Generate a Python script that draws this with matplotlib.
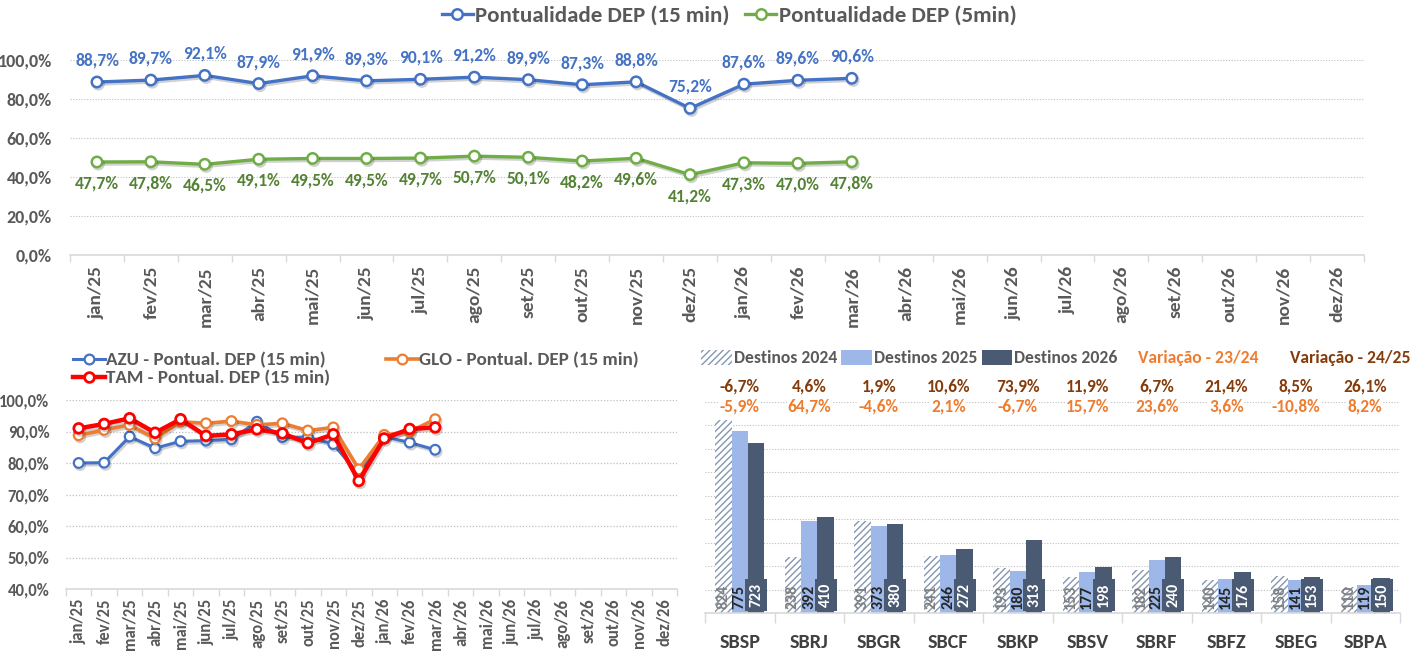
import matplotlib
matplotlib.use("Agg")
import matplotlib.pyplot as plt
import matplotlib.patheffects as pe
from matplotlib.transforms import blended_transform_factory
import numpy as np

plt.rcParams['font.family'] = ['Carlito', 'DejaVu Sans']
plt.rcParams['font.weight'] = 'bold'
plt.rcParams['hatch.linewidth'] = 1.0

# ---------------- data ----------------
months = ["jan/25", "fev/25", "mar/25", "abr/25", "mai/25", "jun/25", "jul/25", "ago/25",
          "set/25", "out/25", "nov/25", "dez/25", "jan/26", "fev/26", "mar/26", "abr/26",
          "mai/26", "jun/26", "jul/26", "ago/26", "set/26", "out/26", "nov/26", "dez/26"]
pont_15 = [88.7, 89.7, 92.1, 87.9, 91.9, 89.3, 90.1, 91.2, 89.9, 87.3, 88.8, 75.2, 87.6, 89.6, 90.6]
pont_5 = [47.7, 47.8, 46.5, 49.1, 49.5, 49.5, 49.7, 50.7, 50.1, 48.2, 49.6, 41.2, 47.3, 47.0, 47.8]

azu = [80.0, 80.1, 88.4, 84.7, 86.9, 87.1, 87.5, 93.1, 88.2, 88.2, 86.0, 76.5, 88.4, 86.5, 84.2]
glo = [88.8, 90.5, 92.1, 87.8, 93.1, 92.6, 93.3, 92.1, 92.6, 90.3, 91.3, 78.0, 88.9, 89.9, 93.9]
tam = [91.0, 92.4, 94.2, 89.6, 93.9, 88.6, 89.1, 90.7, 89.4, 86.3, 89.1, 74.3, 87.8, 90.8, 91.3]

airports = ["SBSP", "SBRJ", "SBGR", "SBCF", "SBKP", "SBSV", "SBRF", "SBFZ", "SBEG", "SBPA"]
dest_2024 = [824, 238, 391, 241, 193, 153, 182, 140, 158, 110]
dest_2025 = [775, 392, 373, 246, 180, 177, 225, 145, 141, 119]
dest_2026 = [723, 410, 380, 272, 313, 198, 240, 176, 153, 150]
var_2425 = ["-6,7%", "4,6%", "1,9%", "10,6%", "73,9%", "11,9%", "6,7%", "21,4%", "8,5%", "26,1%"]
var_2324 = ["-5,9%", "64,7%", "-4,6%", "2,1%", "-6,7%", "15,7%", "23,6%", "3,6%", "-10,8%", "8,2%"]

# ---------------- styles ----------------
GRAY = "#595959"
GRID = "#BFBFBF"
AXIS = "#D9D9D9"
BLUE = "#4472C4"
GREEN = "#70AD47"
GREEN_T = "#548235"
ORANGE = "#ED7D31"
RED = "#FF0000"
BROWN = "#843C0C"
C24 = "#8497B0"
C25 = "#9DB7E8"
C26 = "#4B5A73"

W, H = 1418, 656
fig = plt.figure(figsize=(W / 100, H / 100), dpi=100)

def fx(px):
    return px / W

def fy(py):
    return 1 - py / H

shadow = [pe.SimpleLineShadow(offset=(1.0, -1.5), shadow_color='black', alpha=0.18), pe.Normal()]

def pct(v):
    return f"{v:.1f}".replace(".", ",") + "%"

def style_cat_axis(ax, n):
    ax.set_xlim(-0.5, n - 0.5)
    ax.set_xticks(range(n))
    ax.set_xticks(np.arange(-0.5, n, 1.0), minor=True)
    ax.tick_params(axis='x', which='major', length=0)
    ax.tick_params(axis='x', which='minor', length=5, color=AXIS, width=1)
    for s in ['top', 'right', 'left']:
        ax.spines[s].set_visible(False)
    ax.spines['bottom'].set_color(AXIS)
    ax.spines['bottom'].set_linewidth(1.2)
    ax.tick_params(axis='y', length=0)

# ---------------- top chart ----------------
ax1 = fig.add_axes([fx(70), fy(255), fx(1364) - fx(70), fy(60) - fy(255)])
n = len(months)
x15 = np.arange(len(pont_15))
ax1.set_ylim(0, 100)
ax1.set_yticks(np.arange(0, 101, 20))
ax1.set_yticklabels([pct(v) for v in np.arange(0, 101, 20)], fontsize=13, color=GRAY, fontweight='bold')
for y in range(20, 101, 20):
    ax1.axhline(y, color=GRID, lw=0.8, ls=(0, (1, 1.5)), zorder=0)
style_cat_axis(ax1, n)
ax1.set_xticklabels(months, rotation=90, fontsize=14, color=GRAY, fontweight='bold')
ax1.tick_params(axis='x', which='major', pad=8)
ax1.tick_params(axis='y', pad=13)

l15, = ax1.plot(x15, pont_15, color=BLUE, lw=2.4, marker='o', ms=7.5, mfc='white', mec=BLUE, mew=1.8,
                path_effects=shadow, label="Pontualidade DEP (15 min)", zorder=3)
l5, = ax1.plot(x15, pont_5, color=GREEN, lw=2.4, marker='o', ms=7.5, mfc='white', mec=GREEN, mew=1.8,
               path_effects=shadow, label="Pontualidade DEP (5min)", zorder=3)
for xi, v in zip(x15, pont_15):
    ax1.annotate(pct(v), (xi, v), xytext=(0, 15.5), textcoords='offset points', ha='center', va='center',
                 fontsize=12.6, color=BLUE, fontweight='bold', annotation_clip=False)
for xi, v in zip(x15, pont_5):
    ax1.annotate(pct(v), (xi, v), xytext=(0, -15.5), textcoords='offset points', ha='center', va='center',
                 fontsize=12.6, color=GREEN_T, fontweight='bold', annotation_clip=False)

leg1 = fig.legend(handles=[l15, l5], loc='center', bbox_to_anchor=(fx(729), fy(16)), ncol=2,
                  frameon=False, fontsize=16.5, handlelength=1.35, handletextpad=0.1, columnspacing=0.7,
                  labelcolor=GRAY)
for h in leg1.legend_handles:
    h.set_path_effects([])

# ---------------- bottom-left chart ----------------
ax2 = fig.add_axes([fx(66), fy(589), fx(677) - fx(66), fy(400) - fy(589)])
ax2.set_ylim(40, 100)
ax2.set_yticks(np.arange(40, 101, 10))
ax2.set_yticklabels([pct(v) for v in np.arange(40, 101, 10)], fontsize=12, color=GRAY, fontweight='bold')
for y in range(50, 101, 10):
    ax2.axhline(y, color=GRID, lw=0.9, ls=(0, (1, 1.5)), zorder=0)
style_cat_axis(ax2, n)
ax2.set_xticklabels(months, rotation=90, fontsize=12, color=GRAY, fontweight='bold')
ax2.tick_params(axis='x', which='major', pad=7)
ax2.tick_params(axis='y', pad=12)

la, = ax2.plot(x15, azu, color=BLUE, lw=2.2, marker='o', ms=7, mfc='white', mec=BLUE, mew=1.6,
               path_effects=shadow, label="AZU - Pontual. DEP (15 min)", zorder=3)
lg, = ax2.plot(x15, glo, color=ORANGE, lw=2.6, marker='o', ms=7, mfc='white', mec=ORANGE, mew=1.6,
               path_effects=shadow, label="GLO - Pontual. DEP (15 min)", zorder=4)
lt, = ax2.plot(x15, tam, color=RED, lw=3.2, marker='o', ms=7, mfc='white', mec=RED, mew=2.0,
               path_effects=shadow, label="TAM - Pontual. DEP (15 min)", zorder=5)
leg2 = fig.legend(handles=[la, lt, lg], loc='upper left', bbox_to_anchor=(fx(56), fy(335)), ncol=2,
                  frameon=False, fontsize=13.7, handlelength=1.7, handletextpad=0.05, columnspacing=2.9,
                  labelspacing=0.1, labelcolor=GRAY)
for h in leg2.legend_handles:
    h.set_path_effects([])

# ---------------- bar chart ----------------
ax3 = fig.add_axes([fx(705), fy(613), fx(1400) - fx(705), fy(402) - fy(613)])
na = len(airports)
xb = np.arange(na)
bw = 0.235
ax3.set_ylim(0, 900)
ax3.set_yticks([])
for y in range(100, 901, 100):
    ax3.axhline(y, color=GRID, lw=0.8, ls=(0, (1, 1.5)), zorder=0)
style_cat_axis(ax3, na)
ax3.set_xticks(xb)
ax3.set_xticklabels(airports, fontsize=14.5, color="#404040", fontweight='bold')
ax3.tick_params(axis='x', which='major', pad=15)
ax3.tick_params(axis='x', which='minor', length=7)

b24 = ax3.bar(xb - bw, dest_2024, bw, facecolor='white', edgecolor=C24, hatch='/////', lw=0,
              label="Destinos 2024", zorder=2)
b25 = ax3.bar(xb, dest_2025, bw, color=C25, label="Destinos 2025", zorder=2)
b26 = ax3.bar(xb + bw, dest_2026, bw, color=C26, label="Destinos 2026", zorder=2)

for xi, v in zip(xb, dest_2024):
    ax3.annotate(str(v), (xi - bw, 0), xytext=(0, 3), textcoords='offset points', rotation=90,
                 ha='center', va='bottom', fontsize=11.5, color="#7F7F7F", fontweight='bold', zorder=5)
for xi, v in zip(xb, dest_2025):
    ax3.annotate(str(v), (xi, 0), xytext=(0, 3), textcoords='offset points', rotation=90,
                 ha='center', va='bottom', fontsize=11.5, color="#262626", fontweight='bold', zorder=5)
for xi, v in zip(xb, dest_2026):
    ax3.annotate(str(v), (xi + bw, 0), xytext=(0, 4), textcoords='offset points', rotation=90,
                 ha='center', va='bottom', fontsize=11.5, color="white", fontweight='bold', zorder=6,
                 bbox=dict(boxstyle='square,pad=0.25', fc=C26, ec='none'))

tb = blended_transform_factory(ax3.transData, fig.transFigure)
for xi, s in zip(xb, var_2425):
    ax3.text(xi, fy(387), s, transform=tb, ha='center', va='center', fontsize=12.5, color=BROWN,
             fontweight='bold', clip_on=False)
for xi, s in zip(xb, var_2324):
    ax3.text(xi, fy(406), s, transform=tb, ha='center', va='center', fontsize=12.5, color=ORANGE,
             fontweight='bold', clip_on=False, bbox=dict(fc='white', ec='none', pad=0.5))

leg3 = fig.legend(handles=[b24, b25, b26], loc='center left', bbox_to_anchor=(fx(685), fy(358)), ncol=3,
                  frameon=False, fontsize=12.7, handlelength=1.75, handleheight=1.0, handletextpad=0.1,
                  columnspacing=0.25, labelcolor=GRAY)
fig.text(fx(1138), fy(358), "Variação - 23/24", ha='left', va='center', fontsize=12.7, color=ORANGE,
         fontweight='bold')
fig.text(fx(1290), fy(358), "Variação - 24/25", ha='left', va='center', fontsize=12.7, color=BROWN,
         fontweight='bold')

fig.savefig("out.png", dpi=100)
